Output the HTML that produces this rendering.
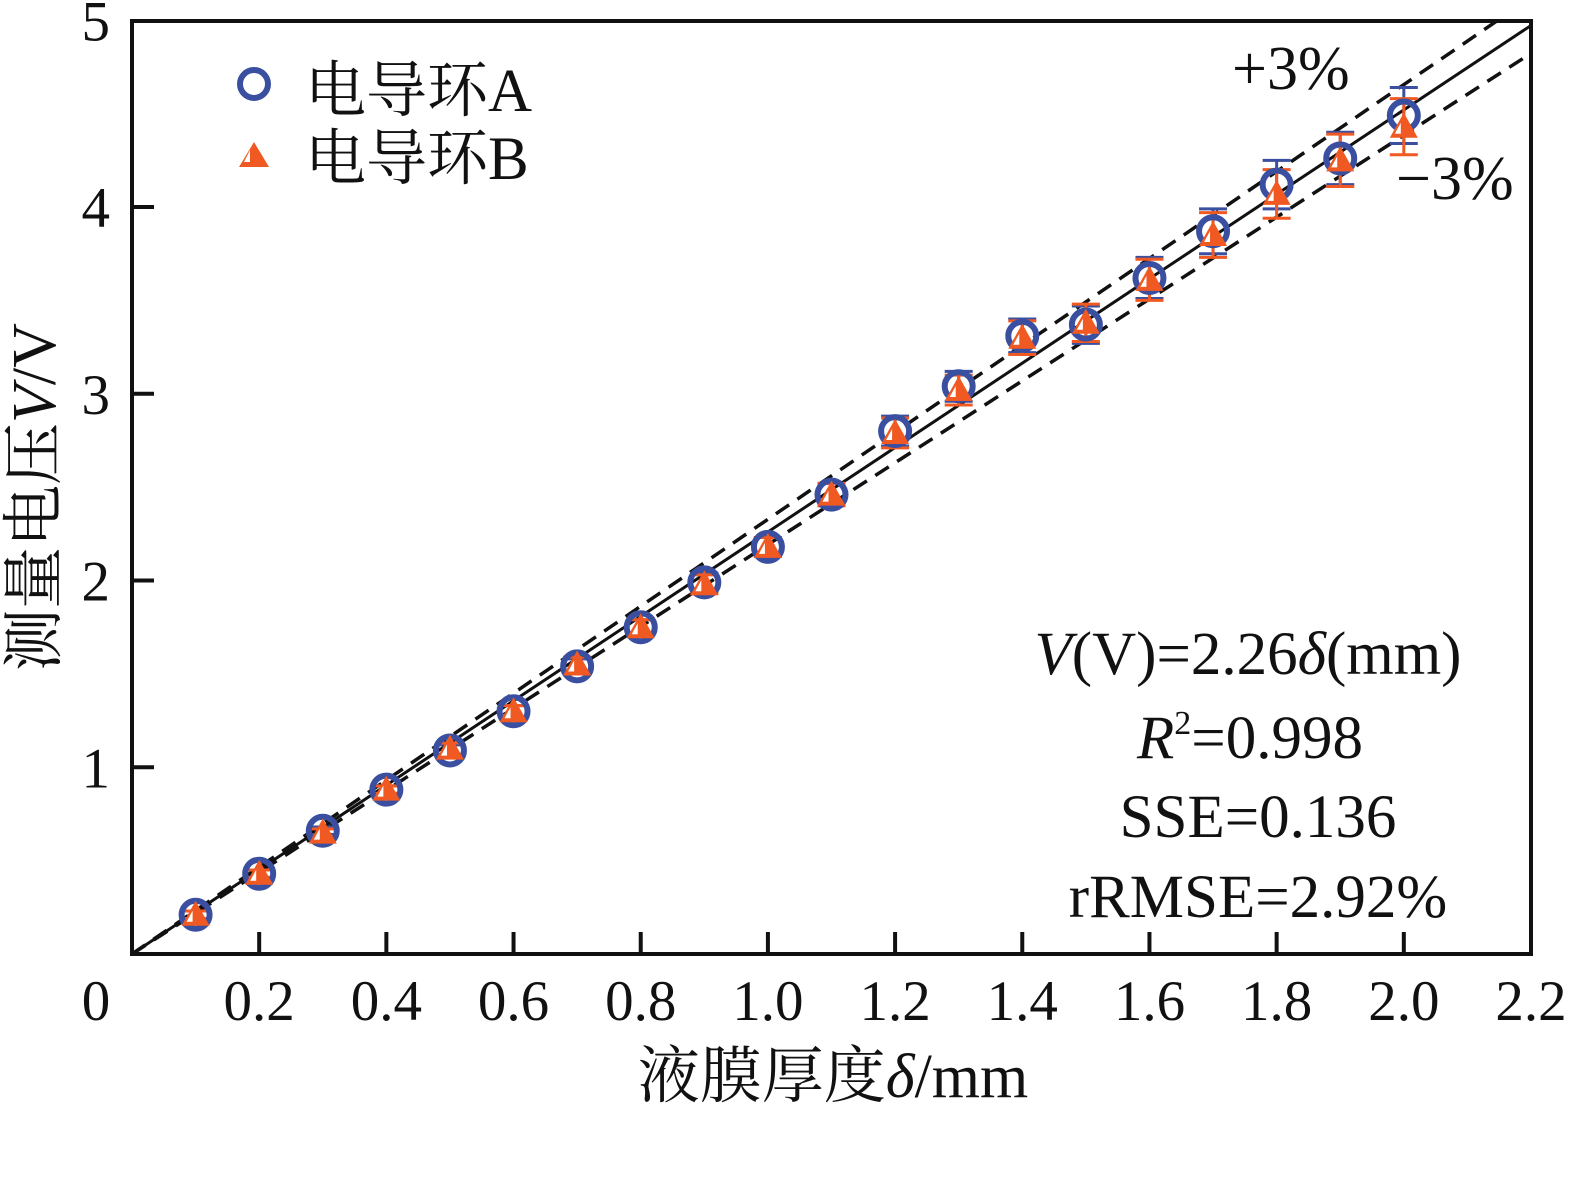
<!DOCTYPE html>
<html><head><meta charset="utf-8"><style>
body{margin:0;background:#fff;}
svg{display:block;font-family:"Liberation Serif","Noto Serif CJK SC",serif;}
</style></head><body>
<svg id="chart" width="1583" height="1183" xmlns="http://www.w3.org/2000/svg">
<g id="marks"></g>
<rect x="132" y="21" width="1399" height="933" fill="none" stroke="#111" stroke-width="4"/>
<g id="ticks"></g>
<g font-size="61" fill="#111">
<circle cx="254" cy="84" r="14" fill="none" stroke="#3a4fa0" stroke-width="6"/>
<text x="305" y="111">电导环A</text>
<polygon points="254,142 239,167 269,167" fill="#f05a22"/>
<polygon points="250,150 244,162 250,162" fill="#fff"/>
<text x="305" y="179">电导环B</text>
</g>
<text x="1232" y="89" font-size="62" fill="#111">+3%</text>
<text x="1396" y="199" font-size="62" fill="#111">−3%</text>
<g font-size="61" fill="#111" text-anchor="middle">
<text x="1248" y="674"><tspan font-style="italic">V</tspan>(V)=2.26<tspan font-style="italic">δ</tspan>(mm)</text>
<text x="1250" y="758"><tspan font-style="italic">R</tspan><tspan font-size="34" dy="-24">2</tspan><tspan dy="24">=0.998</tspan></text>
<text x="1258" y="837">SSE=0.136</text>
<text x="1258" y="917">rRMSE=2.92%</text>
</g>
<text x="833" y="1097" font-size="62" text-anchor="middle" fill="#111">液膜厚度<tspan font-style="italic">δ</tspan>/mm</text>
<text transform="translate(55,497) rotate(-90)" font-size="62" text-anchor="middle" fill="#111">测量电压<tspan font-style="italic">V</tspan>/V</text>
</svg>
<script>
const xs=[0.1,0.2,0.3,0.4,0.5,0.6,0.7,0.8,0.9,1.0,1.1,1.2,1.3,1.4,1.5,1.6,1.7,1.8,1.9,2.0];
const valsA=[0.21,0.43,0.66,0.88,1.09,1.30,1.54,1.75,1.99,2.18,2.46,2.80,3.04,3.31,3.37,3.62,3.87,4.12,4.26,4.49];
const valsB=[0.21,0.43,0.65,0.88,1.10,1.30,1.55,1.75,1.98,2.18,2.46,2.79,3.02,3.30,3.38,3.61,3.85,4.07,4.25,4.43];
const errA=[0.02,0.02,0.02,0.02,0.03,0.03,0.04,0.04,0.05,0.05,0.06,0.08,0.08,0.09,0.10,0.11,0.12,0.13,0.14,0.15];
const errB=[0.02,0.02,0.02,0.02,0.03,0.03,0.04,0.04,0.05,0.05,0.06,0.08,0.08,0.09,0.10,0.11,0.12,0.13,0.14,0.15];
const xTicks=[0,0.2,0.4,0.6,0.8,1.0,1.2,1.4,1.6,1.8,2.0,2.2];
const xTickLabels=["0","0.2","0.4","0.6","0.8","1.0","1.2","1.4","1.6","1.8","2.0","2.2"];
const yTicks=[1,2,3,4,5];
const slope=2.26, band=0.03;
const X=v=>132+v*(1399/2.2), Y=v=>954-v*186.75;
const NS="http://www.w3.org/2000/svg";
const marks=document.getElementById('marks'), ticks=document.getElementById('ticks');
function mk(tag,attrs,parent){const e=document.createElementNS(NS,tag);for(const k in attrs)e.setAttribute(k,attrs[k]);parent.appendChild(e);return e;}
let l=mk('line',{x1:X(0),y1:Y(0),x2:X(2.2),y2:Y(2.2*slope),stroke:'#111','stroke-width':3},marks);


[1+band,1-band].forEach((f,i)=>{const xe=Math.min(2.2,5/(slope*f));
 const d=mk('line',{x1:X(0),y1:Y(0),x2:X(xe),y2:Y(xe*slope*f),stroke:'#111','stroke-width':3.5,'stroke-dasharray':'16 10'},marks);
 
 });
function errbar(x,v,e,c,name){const g=mk('g',{stroke:c,'stroke-width':3},marks);
 
 
 mk('line',{x1:X(x),x2:X(x),y1:Y(v+e),y2:Y(v-e)},g);
 mk('line',{x1:X(x)-14,x2:X(x)+14,y1:Y(v+e),y2:Y(v+e)},g);
 mk('line',{x1:X(x)-14,x2:X(x)+14,y1:Y(v-e),y2:Y(v-e)},g);}
xs.forEach((x,i)=>{
 errbar(x,valsA[i],errA[i],'#3a4fa0','error-bar-a');
 errbar(x,valsB[i],errB[i],'#f05a22','error-bar-b');
 const c=mk('circle',{cx:X(x),cy:Y(valsA[i]),r:14,fill:'none',stroke:'#3a4fa0','stroke-width':6},marks);
 
 
 const cx=X(x),cy=Y(valsB[i]);
 const t=mk('polygon',{points:`${cx},${cy-14} ${cx-14},${cy+11} ${cx+14},${cy+11}`,fill:'#f05a22'},marks);
 
 
 mk('polygon',{points:`${cx-3},${cy-4} ${cx-9},${cy+7} ${cx-3},${cy+7}`,fill:'#fff'},marks);
});
xTicks.forEach((v,i)=>{
 if(i>0&&i<xTicks.length-1){mk('line',{x1:X(v),x2:X(v),y1:954,y2:932,stroke:'#111','stroke-width':4},ticks);}
 const t=mk('text',{x:i==0?96:X(v),y:1020,'font-size':57,'text-anchor':'middle',fill:'#111'},ticks);
 t.textContent=xTickLabels[i];
 
 
});
yTicks.forEach(v=>{
 if(v<5)mk('line',{x1:132,x2:154,y1:Y(v),y2:Y(v),stroke:'#111','stroke-width':4},ticks);
 const t=mk('text',{x:110,y:Y(v)+20,'font-size':57,'text-anchor':'end',fill:'#111'},ticks);
 t.textContent=String(v);
 
 
});
</script>
</body></html>
